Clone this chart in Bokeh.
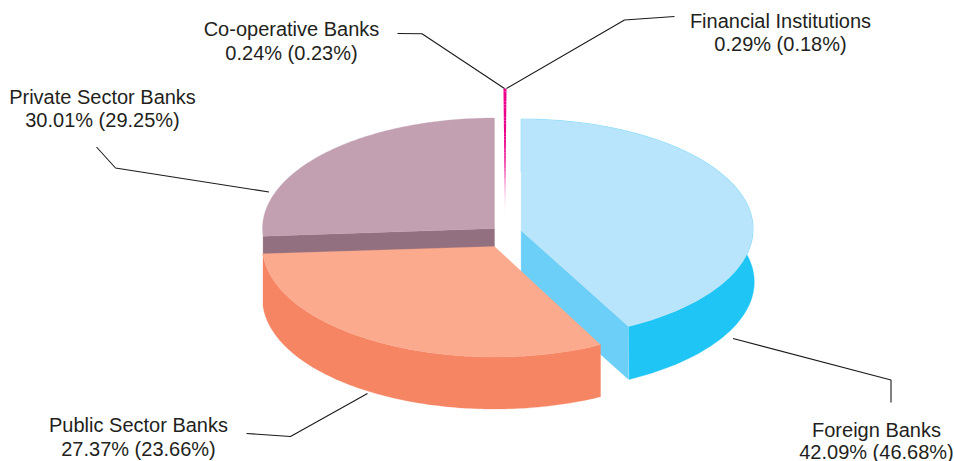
import numpy as np
from bokeh.plotting import figure
from bokeh.models import Range1d
from bokeh.core.properties import value
from bokeh.embed import file_html
from bokeh.resources import INLINE

# --- data -------------------------------------------------------------
categories = ["Foreign Banks", "Public Sector Banks", "Private Sector Banks",
              "Co-operative Banks", "Financial Institutions"]
share_current = [42.09, 27.37, 30.01, 0.24, 0.29]
share_previous = [46.68, 23.66, 29.25, 0.23, 0.18]
# sweep of each slice as actually drawn in the picture (degrees)
drawn_sweep = [152.4, 113.4, 94.0, 0.36, 0.40]

# --- layout / style ----------------------------------------------------
RX, RY, DEPTH = 232.0, 110.5, 52.0
start_angle = [0.0, 152.8, 266.0]
centers = [(520.6, 230.0), (494.0, 246.0), (494.0, 228.0)]
arc_dy = [-1.5, 0.0, 0.0]
slice_ry = [110.0, 110.5, 110.5]
slice_depth = [53.0, 52.0, 19.0]
wall_extra_rx = [1.2, 0.0, 0.0]
sliver_center = (504.5, 216.0)
sliver_ry = 128.0
top_col = ["#B8E5FB", "#FBAA8E", "#C2A0B2"]
wall_col = ["#1FC5F5", "#F68563", None]
cut_col = ["#6CCFF7", None, "#93707F"]
PINK = np.array([236, 0, 140])
TXT = "#231F20"

label_pos = [(876, 429, 451), (138, 424, 448), (102, 96, 119),
             (291, 28, 52), (780, 20, 43)]
leaders = [
    ([732.5, 890.5, 890.5], [338, 379.5, 402]),
    ([246, 290, 367], [433, 436, 393]),
    ([96, 115, 268.5], [146.5, 167.5, 191.5]),
    ([397, 421.5, 504], [33, 33.3, 88]),
    ([506, 624, 674], [88, 19.5, 16]),
]


def arc(center, start, sweep, ry=RY, dy=0.0, rx=RX, n=120):
    t = np.radians(np.linspace(start, start + sweep, n))
    return center[0] + rx * np.sin(t), center[1] + dy - ry * np.cos(t)


p = figure(width=954, height=461, x_range=Range1d(0, 954), y_range=Range1d(461, 0),
           output_backend="svg", toolbar_location=None, min_border=0,
           outline_line_color=None, background_fill_color="white",
           border_fill_color="white")
p.xaxis.visible = False
p.yaxis.visible = False
p.xgrid.visible = False
p.ygrid.visible = False


def poly(xs, ys, col):
    p.patch(list(xs), list(ys), fill_color=col, line_color=col, line_width=0.3)


def slice3d(i):
    c, s, w = centers[i], start_angle[i], drawn_sweep[i]
    ax, ay = arc(c, s, w, ry=slice_ry[i], dy=arc_dy[i])
    d = slice_depth[i]
    # outer wall
    if wall_col[i]:
        wx, wy = arc(c, s, w, ry=slice_ry[i], dy=arc_dy[i], rx=RX + wall_extra_rx[i])
        poly(np.r_[ax, wx[::-1]], np.r_[ay, wy[::-1] + d], wall_col[i])
    # cut faces
    if i == 0:   # leading face runs from the end of the arc back to the apex
        poly([c[0], ax[-1], ax[-1], c[0]],
             [c[1], ay[-1], ay[-1] + d, c[1] + d], cut_col[i])
    if i == 2:   # face at the start of the arc
        poly([c[0], ax[0], ax[0], c[0]],
             [c[1], ay[0], ay[0] + d, c[1] + d], cut_col[i])
    # top surface
    poly(np.r_[c[0], ax], np.r_[c[1], ay], top_col[i])


slice3d(2)
slice3d(0)
slice3d(1)

# the two thin slices: fading out toward the apex
half = (drawn_sweep[3] + drawn_sweep[4]) / 2
half_w = RX * np.sin(np.radians(half))
cx, cy = sliver_center
steps = np.linspace(0, 1, 41)
for a, b in zip(steps[:-1], steps[1:]):
    y0, y1 = cy - sliver_ry * (1 - a), cy - sliver_ry * (1 - b)
    w0, w1 = half_w * (1 - a), half_w * (1 - b)
    fade = np.clip((1 - a) / 0.4, 0, 1)
    col = PINK * fade + 255 * (1 - fade)
    hexcol = "#%02X%02X%02X" % tuple(int(round(v)) for v in col)
    p.patch([cx - w0, cx + w0, cx + w1, cx - w1], [y0, y0, y1, y1],
            fill_color=hexcol, line_color=None)

# leader lines
for lx, ly in leaders:
    p.line(lx, ly, line_color="#1A1A1A", line_width=1.1)

# labels
for name, cur, prev, (x, y1, y2) in zip(categories, share_current, share_previous, label_pos):
    for txt, y in ((name, y1), (f"{cur:.2f}% ({prev:.2f}%)", y2)):
        p.text([x], [y], text=[txt], text_font=value("Liberation Sans"),
               text_font_size="20px", text_align="center",
               text_baseline="alphabetic", text_color=TXT)

open("out.html", "w").write(file_html(p, INLINE))
